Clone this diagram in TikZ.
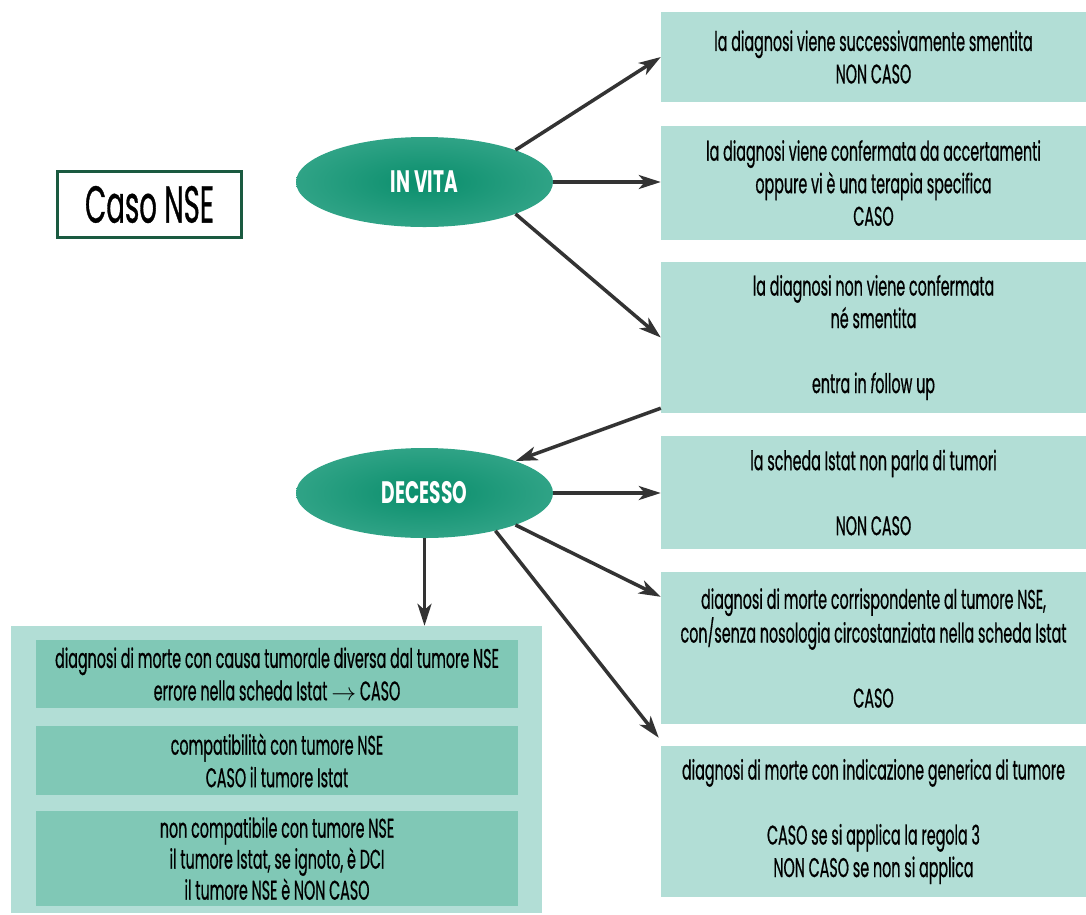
\documentclass[tikz,border=0pt]{standalone}
\usepackage{fontspec}
\setmainfont{Poppins}[FakeStretch=0.53,UprightFeatures={FakeBold=0.6},ItalicFeatures={FakeBold=0.6}]
\usetikzlibrary{arrows.meta,shapes.geometric,calc}
\definecolor{boxlight}{HTML}{B2DED6}
\definecolor{boxdark}{HTML}{80C8B6}
\definecolor{ellin}{HTML}{0A8E6C}
\definecolor{ellout}{HTML}{55B8A0}
\definecolor{arrowgray}{HTML}{333333}
\definecolor{titleborder}{HTML}{1A5A40}
\pgfdeclareradialshading{ellshade}{\pgfpoint{0bp}{0bp}}{color(0bp)=(ellin); color(50bp)=(ellout); color(72bp)=(ellout)}
\begin{document}
\begin{tikzpicture}[x=1pt,y=-1pt,
 txt/.style={font=\fontsize{27}{32.5}\selectfont, align=center, text=black},
 rbox/.style={rectangle, fill=boxlight, inner sep=0pt, minimum width=425pt, txt},
 ibox/.style={rectangle, fill=boxdark, inner sep=0pt, minimum width=482pt, txt},
 ell/.style={ellipse, shading=ellshade, minimum width=257pt, minimum height=90pt, inner sep=0pt, text=white, font=\addfontfeatures{FakeStretch=0.6}\bfseries\fontsize{31}{32}\selectfont},
 arr/.style={draw=arrowgray, line width=3.5pt, -{Stealth[length=22pt,width=14pt,inset=6pt]}},
 titlebox/.style={rectangle, draw=titleborder, line width=3pt, fill=white, minimum width=184pt, minimum height=66pt, inner sep=0pt, font=\fontsize{52}{54}\selectfont}
]
\fill[white] (0,0) rectangle (1086,914);
\useasboundingbox (0,0) rectangle (1086,914);

\node[titlebox] (title) at (149.5,204.5) {Caso NSE};

\node[ell] (invita) at (424.5,182) {IN VITA};
\node[ell] (decesso) at (424.5,493) {DECESSO};

\node[rbox, minimum height=90pt] (b1) at (873.5,57) {la diagnosi viene successivamente smentita\\NON CASO};
\node[rbox, minimum height=114pt] (b2) at (873.5,183) {la diagnosi viene confermata da accertamenti\\oppure vi è una terapia specifica\\CASO};
\node[rbox, minimum height=151pt] (b3) at (873.5,337.5) {la diagnosi non viene confermata\\né smentita\\[32.5pt]entra in {\itshape f}ollow up};
\node[rbox, minimum height=113pt] (b4) at (873.5,492.5) {la scheda Istat non parla di tumori\\[32.5pt]NON CASO};
\node[rbox, minimum height=152pt] (b5) at (873.5,648) {diagnosi di morte corrispondente al tumore NSE,\\con/senza nosologia circostanziata nella scheda Istat\\[32.5pt]CASO};
\node[rbox, minimum height=151pt] (b6) at (873.5,821.5) {diagnosi di morte con indicazione generica di tumore\\[32.5pt]CASO se si applica la regola 3\\NON CASO se non si applica};

\node[rectangle, fill=boxlight, minimum width=531pt, minimum height=287pt, inner sep=0pt] (cont) at (276.5,769.5) {};
\node[ibox, minimum height=68pt] (ia) at (277,674) {diagnosi di morte con causa tumorale diversa dal tumore NSE\\errore nella scheda Istat $\rightarrow$ CASO};
\node[ibox, minimum height=69pt] (ib) at (277,760.5) {compatibilità con tumore NSE\\CASO il tumore Istat};
\node[ibox, minimum height=95pt, font=\fontsize{27}{31}\selectfont] (ic) at (277,858.5) {non compatibile con tumore NSE\\il tumore Istat, se ignoto, è DCI\\il tumore NSE è NON CASO};

\coordinate (b3out) at ($(b3.south west)+(0,-5)$);
\coordinate (b5in) at ($(b5.north west)+(0,25)$);
\coordinate (b6in) at ($(b6.north west)+(-2,-8)$);

\draw[arr] (invita.north east) -- (b1.west);
\draw[arr] (invita.east) -- (invita.east -| b2.west);
\draw[arr] (invita.south east) -- (b3.west);
\draw[arr] (b3out) -- (decesso.north east);
\draw[arr] (decesso.east) -- (decesso.east -| b4.west);
\draw[arr] (decesso.south east) -- (b5in);
\draw[arr] (decesso.-28.5) -- (b6in);
\draw[arr] (decesso.south) -- (decesso.south |- cont.north);
\end{tikzpicture}
\end{document}
